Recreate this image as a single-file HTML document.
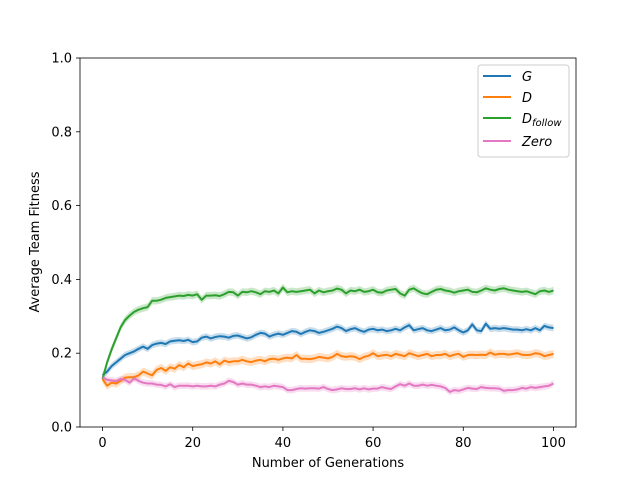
<!DOCTYPE html>
<html><head><meta charset="utf-8"><style>
body{margin:0;background:#fff;font-family:"Liberation Sans","DejaVu Sans",sans-serif;}
svg text{font-family:"DejaVu Sans","Liberation Sans",sans-serif;}
</style></head><body>
<svg id="chart" width="640" height="480" xmlns="http://www.w3.org/2000/svg">
<rect width="640" height="480" fill="#fff"/>
<g id="bands"></g><g id="lines"></g>
<rect x="80" y="58" width="496" height="369" fill="none" stroke="#000" stroke-width="0.8"/>
<g id="xticks"></g><g id="yticks"></g>
<text x="328" y="467" text-anchor="middle" font-size="13">Number of Generations</text>
<text x="39" y="242" text-anchor="middle" font-size="13" transform="rotate(-90 39 242)">Average Team Fitness</text>
<g>
<rect x="478" y="65" width="91" height="92" rx="3" fill="#fff" fill-opacity="0.8" stroke="#ccc"/>
<g><line x1="483" y1="76" x2="511" y2="76" stroke="#1f77b4" stroke-width="2"/><text x="522" y="81" font-size="13" font-style="italic">G</text></g>
<g><line x1="483" y1="97" x2="511" y2="97" stroke="#ff7f0e" stroke-width="2"/><text x="522" y="102" font-size="13" font-style="italic">D</text></g>
<g><line x1="483" y1="118" x2="511" y2="118" stroke="#2ca02c" stroke-width="2"/><text x="522" y="123" font-size="13" font-style="italic">D<tspan font-size="10" dy="3">follow</tspan></text></g>
<g><line x1="483" y1="141" x2="511" y2="141" stroke="#e377c2" stroke-width="2"/><text x="522" y="146" font-size="13" font-style="italic">Zero</text></g>
</g>
</svg>
<script>
const seriesG=[0.14,0.15,0.165,0.175,0.185,0.195,0.2,0.205,0.212,0.218,0.212,0.222,0.226,0.228,0.225,0.232,0.234,0.235,0.233,0.236,0.23,0.232,0.242,0.245,0.24,0.244,0.246,0.245,0.242,0.247,0.248,0.244,0.24,0.243,0.25,0.255,0.253,0.245,0.25,0.253,0.25,0.255,0.26,0.258,0.252,0.258,0.262,0.26,0.255,0.258,0.262,0.266,0.272,0.268,0.26,0.265,0.268,0.262,0.258,0.264,0.266,0.262,0.264,0.26,0.262,0.266,0.262,0.27,0.276,0.262,0.265,0.268,0.262,0.26,0.264,0.268,0.262,0.264,0.27,0.262,0.256,0.262,0.278,0.262,0.26,0.28,0.266,0.268,0.266,0.268,0.266,0.264,0.264,0.262,0.265,0.262,0.268,0.262,0.274,0.27,0.268];
const seriesD=[0.13,0.112,0.12,0.118,0.125,0.134,0.135,0.135,0.14,0.15,0.145,0.14,0.155,0.16,0.152,0.162,0.158,0.168,0.162,0.172,0.165,0.168,0.17,0.175,0.172,0.178,0.17,0.18,0.176,0.178,0.178,0.182,0.178,0.176,0.18,0.182,0.178,0.184,0.185,0.182,0.186,0.188,0.186,0.195,0.185,0.185,0.184,0.186,0.19,0.188,0.186,0.19,0.198,0.192,0.19,0.192,0.19,0.184,0.19,0.193,0.2,0.192,0.194,0.196,0.192,0.198,0.195,0.192,0.2,0.196,0.192,0.195,0.198,0.192,0.195,0.195,0.198,0.192,0.196,0.198,0.19,0.195,0.196,0.195,0.196,0.195,0.202,0.196,0.198,0.198,0.196,0.198,0.2,0.196,0.195,0.196,0.2,0.198,0.192,0.195,0.198];
const seriesDf=[0.13,0.175,0.21,0.24,0.27,0.29,0.302,0.312,0.318,0.322,0.325,0.342,0.342,0.345,0.35,0.352,0.354,0.356,0.355,0.358,0.356,0.36,0.345,0.356,0.356,0.357,0.355,0.36,0.366,0.365,0.356,0.366,0.365,0.368,0.365,0.36,0.368,0.366,0.37,0.362,0.378,0.365,0.368,0.366,0.368,0.37,0.372,0.362,0.37,0.365,0.368,0.37,0.375,0.372,0.362,0.37,0.368,0.372,0.366,0.368,0.372,0.365,0.364,0.37,0.372,0.374,0.362,0.356,0.372,0.376,0.368,0.362,0.36,0.366,0.372,0.374,0.37,0.368,0.364,0.368,0.37,0.372,0.366,0.365,0.37,0.376,0.372,0.37,0.374,0.376,0.372,0.37,0.368,0.366,0.368,0.364,0.36,0.368,0.37,0.366,0.37];
const seriesZ=[0.135,0.128,0.126,0.124,0.13,0.128,0.12,0.132,0.125,0.12,0.118,0.118,0.115,0.114,0.11,0.116,0.108,0.112,0.112,0.112,0.11,0.112,0.11,0.11,0.112,0.11,0.115,0.118,0.125,0.122,0.115,0.118,0.115,0.115,0.112,0.108,0.11,0.108,0.112,0.11,0.108,0.1,0.1,0.103,0.105,0.104,0.105,0.105,0.104,0.108,0.103,0.1,0.102,0.105,0.103,0.103,0.105,0.102,0.105,0.102,0.104,0.104,0.108,0.105,0.103,0.11,0.116,0.112,0.118,0.112,0.112,0.115,0.112,0.114,0.112,0.11,0.106,0.095,0.1,0.098,0.102,0.106,0.104,0.103,0.108,0.106,0.105,0.105,0.104,0.098,0.1,0.1,0.102,0.106,0.104,0.108,0.106,0.108,0.11,0.112,0.118];
const xTicks=[0,20,40,60,80,100];
const yTicks=[0.0,0.2,0.4,0.6,0.8,1.0];
const bandWidth=[0.009,0.011,0.01,0.009];
const colors=['#1f77b4','#ff7f0e','#2ca02c','#e377c2'];
const names=['g','d','dfollow','zero'];
const NS='http://www.w3.org/2000/svg';
const xs=v=>80+(v+5)/110*496;
const ys=v=>427-v*369;
const all=[seriesG,seriesD,seriesDf,seriesZ];
const bands=document.getElementById('bands'),lines=document.getElementById('lines');
all.forEach((s,k)=>{
  let up='',dn='',ln='';
  s.forEach((v,i)=>{ln+=(i?'L':'M')+xs(i).toFixed(1)+','+ys(v).toFixed(1);up+=(i?'L':'M')+xs(i).toFixed(1)+','+ys(v+bandWidth[k]).toFixed(1);});
  for(let i=s.length-1;i>=0;i--)dn+='L'+xs(i).toFixed(1)+','+ys(s[i]-bandWidth[k]).toFixed(1);
  const b=document.createElementNS(NS,'path');b.setAttribute('d',up+dn+'Z');b.setAttribute('fill',colors[k]);b.setAttribute('fill-opacity','0.25');
  
  
  bands.appendChild(b);
  const p=document.createElementNS(NS,'path');p.setAttribute('d',ln);p.setAttribute('fill','none');p.setAttribute('stroke',colors[k]);p.setAttribute('stroke-width','2');p.setAttribute('stroke-linejoin','round');
  
  
  lines.appendChild(p);
});
const xt=document.getElementById('xticks');
xTicks.forEach(t=>{
  const g=document.createElementNS(NS,'g');
  
  
  g.innerHTML=`<line x1="${xs(t)}" y1="427" x2="${xs(t)}" y2="431" stroke="#000" stroke-width="0.8"/><text x="${xs(t)}" y="447" text-anchor="middle" font-size="13">${t}</text>`;
  xt.appendChild(g);
});
const yt=document.getElementById('yticks');
yTicks.forEach(t=>{
  const g=document.createElementNS(NS,'g');
  
  
  g.innerHTML=`<line x1="76" y1="${ys(t)}" x2="80" y2="${ys(t)}" stroke="#000" stroke-width="0.8"/><text x="72" y="${ys(t)+4.5}" text-anchor="end" font-size="13">${t.toFixed(1)}</text>`;
  yt.appendChild(g);
});
</script>
</body></html>
